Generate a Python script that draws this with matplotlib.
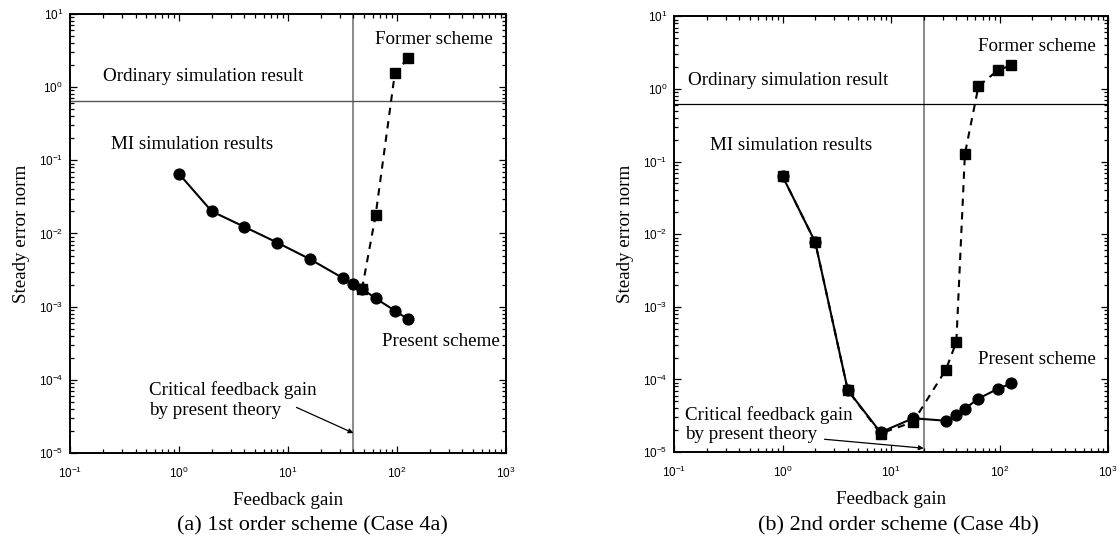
import numpy as np
import matplotlib
matplotlib.use("Agg")
import matplotlib.pyplot as plt
from matplotlib.ticker import LogLocator, FuncFormatter, NullFormatter

plt.rcParams['font.family'] = ['Liberation Serif', 'DejaVu Serif']
plt.rcParams['mathtext.fontset'] = 'custom'
plt.rcParams['mathtext.rm'] = 'Liberation Sans'
plt.rcParams['mathtext.it'] = 'Liberation Sans'

# (a) 1st order scheme (Case 4a)
gain_a = [1, 2, 4, 8, 16, 32, 40, 48, 64, 96, 128]
present_a = [0.0656, 0.0201, 0.0123, 0.0075, 0.00445, 0.00246, 0.00202, 0.00175, 0.0013, 0.00088, 0.00067]
former_gain_a = [48, 64, 96, 128]
former_a = [0.00175, 0.0179, 1.54, 2.52]
ordinary_a = 0.64
critical_a = 40

# (b) 2nd order scheme (Case 4b)
gain_b = [1, 2, 4, 8, 16, 32, 40, 48, 64, 96, 128]
present_b = [0.063, 0.0078, 7.1e-5, 1.87e-5, 2.92e-5, 2.70e-5, 3.25e-5, 3.96e-5, 5.46e-5, 7.4e-5, 8.8e-5]
former_gain_b = [1, 2, 4, 8, 16, 32, 40, 48, 64, 96, 128]
former_b = [0.063, 0.0078, 7.1e-5, 1.8e-5, 2.6e-5, 1.36e-4, 3.28e-4, 0.128, 1.09, 1.80, 2.12]
ordinary_b = 0.617
critical_b = 20

FS = 13.7


def tick_fmt(v, pos):
    return r'$10^{%d}$' % int(round(np.log10(v)))


def setup_axes(ax):
    ax.set_xscale('log')
    ax.set_yscale('log')
    ax.set_xlim(0.1, 1000)
    ax.set_ylim(1e-5, 10)
    for axis in (ax.xaxis, ax.yaxis):
        axis.set_major_locator(LogLocator(base=10, numticks=10))
        axis.set_minor_locator(LogLocator(base=10, subs=np.arange(2, 10), numticks=10))
        axis.set_major_formatter(FuncFormatter(tick_fmt))
        axis.set_minor_formatter(NullFormatter())
    ax.tick_params(which='both', direction='in', top=True, right=True, width=0.9)
    ax.tick_params(which='major', length=5, labelsize=8.5)
    ax.tick_params(which='minor', length=3)
    ax.tick_params(axis='x', pad=9)
    ax.tick_params(axis='y', pad=5)
    for s in ax.spines.values():
        s.set_linewidth(1.4)
    ax.set_xlabel('Feedback gain', fontsize=FS, labelpad=8)
    ax.set_ylabel('Steady error norm', fontsize=FS, labelpad=6)


fig = plt.figure(figsize=(11.2, 5.44), dpi=100)
ax1 = fig.add_axes([0.0625, 0.1673, 0.389, 0.807])
ax2 = fig.add_axes([0.6018, 0.169, 0.3875, 0.801])

# panel (a)
setup_axes(ax1)
ax1.axvline(critical_a, color='#808080', lw=1.3, zorder=1)
ax1.axhline(ordinary_a, color='#555555', lw=1.0, zorder=1)
ax1.plot(former_gain_a, former_a, color='black', lw=1.5, ls=(0, (3.5, 3)),
         marker='s', ms=6.5, zorder=3)
ax1.plot(gain_a, present_a, color='black', lw=1.5, marker='o', ms=7.8, zorder=4)
ax1.text(63, 4.55, 'Former scheme', fontsize=FS, va='center')
ax1.text(0.2, 1.41, 'Ordinary simulation result', fontsize=FS, va='center')
ax1.text(0.238, 0.165, 'MI simulation results', fontsize=FS, va='center')
ax1.text(73, 3.3e-4, 'Present scheme', fontsize=FS, va='center')
ax1.text(0.53, 5.3e-5, 'Critical feedback gain\nby present theory', fontsize=FS,
         va='center', linespacing=1.2)
ax1.annotate('', xy=(critical_a, 1.87e-5), xytext=(12.0, 4.2e-5),
             arrowprops=dict(arrowstyle='-|>', color='black', lw=0.9,
                             mutation_scale=7, shrinkA=0, shrinkB=0))

# panel (b)
setup_axes(ax2)
ax2.axvline(critical_b, color='#808080', lw=1.3, zorder=1)
ax2.axhline(ordinary_b, color='black', lw=0.9, zorder=1)
ax2.plot(former_gain_b, former_b, color='black', lw=1.5, ls=(0, (3.5, 3)),
         marker='s', ms=6.5, zorder=3)
ax2.plot(gain_b, present_b, color='black', lw=1.5, marker='o', ms=7.8, zorder=4)
ax2.text(64, 3.8, 'Former scheme', fontsize=FS, va='center')
ax2.text(0.134, 1.3, 'Ordinary simulation result', fontsize=FS, va='center')
ax2.text(0.216, 0.168, 'MI simulation results', fontsize=FS, va='center')
ax2.text(64, 1.9e-4, 'Present scheme', fontsize=FS, va='center')
ax2.text(0.127, 2.4e-5, 'Critical feedback gain\nby present theory', fontsize=FS,
         va='center', linespacing=1.2)
ax2.annotate('', xy=(critical_b, 1.13e-5), xytext=(2.44, 1.5e-5),
             arrowprops=dict(arrowstyle='-|>', color='black', lw=0.9,
                             mutation_scale=7, shrinkA=0, shrinkB=0))

fig.text(312 / 1120, 1 - 526 / 544, '(a) 1st order scheme (Case 4a)',
         fontsize=16, ha='center', va='center')
fig.text(898 / 1120, 1 - 526 / 544, '(b) 2nd order scheme (Case 4b)',
         fontsize=16, ha='center', va='center')

fig.savefig('out.png', dpi=100)
